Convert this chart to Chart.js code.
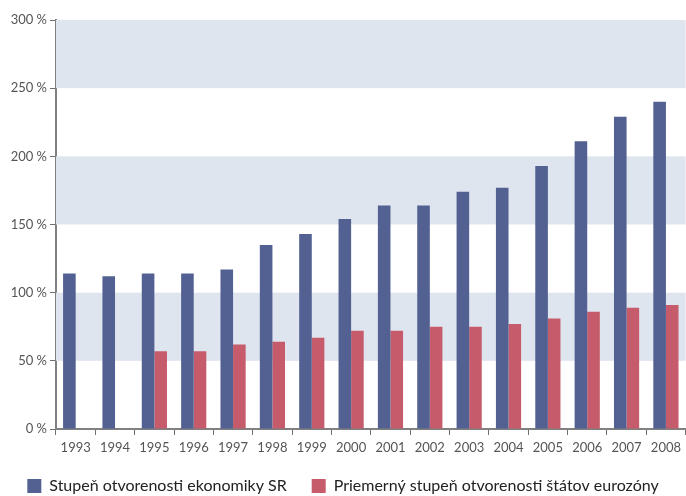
<!DOCTYPE html>
<html>
<head>
<meta charset="utf-8">
<script src="https://cdn.jsdelivr.net/npm/chart.js@4/dist/chart.umd.min.js"></script>
<style>
  html, body { margin: 0; padding: 0; background: #ffffff; }
  #wrap { width: 686px; height: 496px; position: relative; }
</style>
</head>
<body>
<div id="wrap"><canvas id="c" width="686" height="496"></canvas></div>
<script>
// Years on the category axis
const years = ['1993','1994','1995','1996','1997','1998','1999','2000',
               '2001','2002','2003','2004','2005','2006','2007','2008'];

// Openness of the Slovak economy (% of GDP)
const opennessSR = [114, 112, 114, 114, 117, 135, 143, 154,
                    164, 164, 174, 177, 193, 211, 229, 240];

// Average openness of euro-area countries (% of GDP)
const opennessEuro = [null, null, 57, 57, 62, 64, 67, 72,
                      72, 75, 75, 77, 81, 86, 89, 91];

// Y-axis range and step
const yMin = 0, yMax = 300, yStep = 50;
// Shaded horizontal bands [from, to]
const bands = [[50, 100], [150, 200], [250, 300]];

const bandPlugin = {
  id: 'bands',
  beforeDatasetsDraw(chart) {
    const { ctx, chartArea, scales } = chart;
    ctx.save();
    ctx.fillStyle = '#dfe5ef';
    bands.forEach(([a, b]) => {
      const y1 = scales.y.getPixelForValue(b);
      const y2 = scales.y.getPixelForValue(a);
      ctx.fillRect(chartArea.left, y1, chartArea.right - chartArea.left, y2 - y1);
    });
    ctx.restore();
  }
};

new Chart(document.getElementById('c'), {
  type: 'bar',
  data: {
    labels: years,
    datasets: [
      {
        label: 'Stupeň otvorenosti ekonomiky SR',
        data: opennessSR,
        backgroundColor: '#526092',
        borderWidth: 0,
        categoryPercentage: 0.64,
        barPercentage: 1.0
      },
      {
        label: 'Priemerný stupeň otvorenosti štátov eurozóny',
        data: opennessEuro,
        backgroundColor: '#c55b6b',
        borderWidth: 0,
        categoryPercentage: 0.64,
        barPercentage: 1.0
      }
    ]
  },
  options: {
    responsive: false,
    animation: false,
    layout: { padding: { top: 20, right: 0, left: 0, bottom: -8 } },
    plugins: {
      tooltip: { enabled: false },
      legend: {
        position: 'bottom',
        align: 'center',
        labels: {
          boxWidth: 14,
          boxHeight: 14,
          padding: 25,
          color: '#222222',
          font: { family: 'Lato', size: 16 }
        }
      }
    },
    scales: {
      x: {
        offset: true,
        grid: {
          offset: true,
          drawOnChartArea: false,
          drawTicks: true,
          tickLength: 6,
          tickColor: '#707070',
          tickWidth: 1
        },
        border: { display: true, color: '#808080', width: 2 },
        ticks: {
          color: '#555555',
          padding: 5,
          maxRotation: 0,
          font: { family: 'Lato', size: 13 }
        },
        afterFit(scale) { scale.height = 24; }
      },
      y: {
        min: yMin,
        max: yMax,
        grid: {
          drawOnChartArea: false,
          drawTicks: true,
          tickLength: 6,
          tickColor: '#707070',
          tickWidth: 1
        },
        border: { display: true, color: '#808080', width: 2 },
        ticks: {
          stepSize: yStep,
          color: '#555555',
          padding: 3,
          font: { family: 'Lato', size: 13 },
          callback: (v) => v + ' %'
        },
        afterFit(scale) { scale.width = 56; }
      }
    }
  },
  plugins: [bandPlugin]
});
</script>
</body>
</html>
